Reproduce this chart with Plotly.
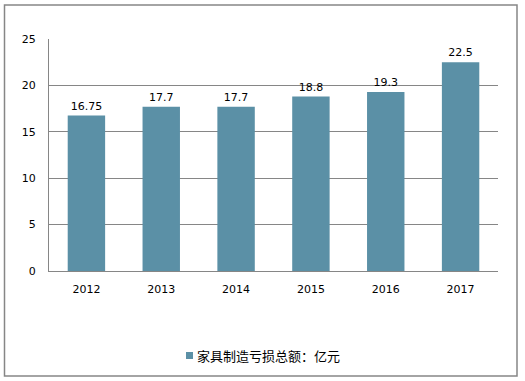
import plotly.graph_objects as go

years = ["2012", "2013", "2014", "2015", "2016", "2017"]
values = [16.75, 17.7, 17.7, 18.8, 19.3, 22.5]
value_labels = ["16.75", "17.7", "17.7", "18.8", "19.3", "22.5"]
series_name = "家具制造亏损总额：亿元"
y_ticks = [0, 5, 10, 15, 20, 25]
bar_color = "#5B90A6"

W, H = 525, 381
L, R, T, B = 49, 27, 39, 110
pw, ph = W - L - R, H - T - B

def px2x(px):
    return (px - L) / pw

def px2y(py):
    return (H - B - py) / ph

fig = go.Figure()
fig.add_trace(go.Bar(
    x=years, y=values, name=series_name,
    marker=dict(color=bar_color, line=dict(width=0)),
    width=0.5,
    text=value_labels, textposition="outside", cliponaxis=False,
    textfont=dict(family="DejaVu Sans", size=11, color="#000000"),
    showlegend=False,
))

fig.update_layout(
    width=W, height=H,
    margin=dict(l=L, r=R, t=T, b=B, autoexpand=False),
    paper_bgcolor="white", plot_bgcolor="white",
    showlegend=False,
    xaxis=dict(showgrid=False, showline=True, linecolor="#868686", linewidth=1,
               ticks="", tickfont=dict(family="DejaVu Sans", size=11, color="#000000"),
               ticklabelstandoff=8),
    yaxis=dict(range=[0, 25], tickvals=y_ticks, showgrid=True, gridcolor="#868686",
               gridwidth=1, showline=True, linecolor="#868686", linewidth=1,
               ticks="", zeroline=False,
               tickfont=dict(family="DejaVu Sans", size=11, color="#000000"),
               ticklabelstandoff=10),
    bargap=0.5,
    shapes=[
        dict(type="rect", xref="paper", yref="paper",
             x0=px2x(4.5), x1=px2x(517), y0=px2y(376), y1=px2y(5),
             line=dict(color="#868686", width=1.5), fillcolor="rgba(0,0,0,0)"),
        dict(type="rect", xref="paper", yref="paper",
             x0=px2x(186), x1=px2x(193), y0=px2y(359), y1=px2y(352),
             line=dict(width=0), fillcolor=bar_color),
    ],
    annotations=[dict(text=series_name, xref="paper", yref="paper",
                      x=px2x(195), y=px2y(355), xanchor="left", yanchor="middle",
                      showarrow=False,
                      font=dict(family="Noto Sans CJK SC", size=13, color="#000000"))],
)

fig.write_html("out.html", config={"displayModeBar": False},
               post_script="document.body.style.margin='0';document.body.style.overflow='hidden';")
